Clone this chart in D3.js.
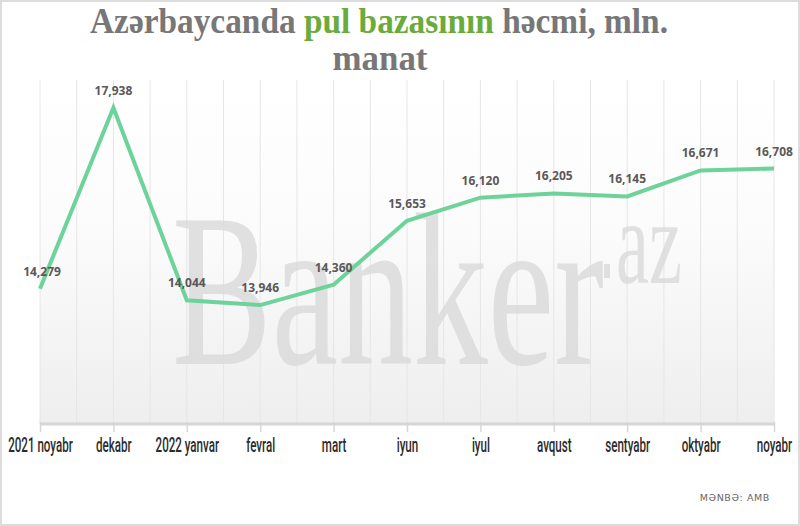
<!DOCTYPE html>
<html><head><meta charset="utf-8">
<script src="https://cdn.jsdelivr.net/npm/d3@7"></script>
<style>body{margin:0;background:#fff}svg{display:block}</style>
</head><body>
<script>
const categories = ["2021 noyabr","dekabr","2022 yanvar","fevral","mart","iyun","iyul","avqust","sentyabr","oktyabr","noyabr"];
const values = [14279,17938,14044,13946,14360,15653,16120,16205,16145,16671,16708];
const yDomain = [11500,18500];

(function(){
const W=800,H=526;
const svg=d3.select("body").append("svg").attr("width",W).attr("height",H);
const defs=svg.append("defs");
const grad=defs.append("linearGradient").attr("id","bg").attr("x1",0).attr("x2",0).attr("y1",0).attr("y2",1);
grad.append("stop").attr("offset","0%").attr("stop-color","#ffffff");
grad.append("stop").attr("offset","45%").attr("stop-color","#fbfbfb");
grad.append("stop").attr("offset","100%").attr("stop-color","#eeeeee");

svg.append("rect").attr("x",1).attr("y",1).attr("width",W-2).attr("height",H-2).attr("fill","#fff").attr("stroke","#dcdcdc").attr("stroke-width",2);

const x=d3.scalePoint().domain(categories).range([40,774]);
const y=d3.scaleLinear().domain(yDomain).range([426,80]);
const plotTop=80,plotBottom=424;

svg.append("rect").attr("x",40).attr("y",plotTop).attr("width",734).attr("height",plotBottom-plotTop).attr("fill","url(#bg)");

const step=x.step();
const gx=[];
for(let i=0;i<categories.length;i++){gx.push(x(categories[i])); if(i<categories.length-1) gx.push(x(categories[i])+step/2);}
svg.append("g").selectAll("line").data(gx).join("line")
  .attr("x1",d=>d).attr("x2",d=>d).attr("y1",plotTop).attr("y2",plotBottom)
  .attr("stroke","#e6e6e6").attr("stroke-width",1);

// watermark
const wm=svg.append("g").attr("fill","#dadada").attr("opacity",0.8);
wm.append("text").attr("x",172).attr("y",364).attr("font-family","Liberation Serif, serif")
  .attr("font-size",218).attr("textLength",432).attr("lengthAdjust","spacingAndGlyphs").text("Banker");
wm.append("text").attr("x",616).attr("y",283).attr("font-family","Liberation Serif, serif")
  .attr("font-size",120).attr("textLength",66).attr("lengthAdjust","spacingAndGlyphs").text("az");
wm.append("rect").attr("x",604).attr("y",264).attr("width",6).attr("height",14);

// axis
const axis=d3.axisBottom(x).tickSize(8).tickPadding(10);
const ag=svg.append("g").attr("transform",`translate(0,${plotBottom})`).call(axis);
ag.select(".domain").attr("stroke","#d6d6d6").attr("stroke-width",3).attr("d",`M40,0H774`);
ag.selectAll(".tick line").attr("stroke","#d6d6d6").attr("stroke-width",1.5).attr("y1",-2);
ag.selectAll(".tick text").attr("fill","#2b2b2b").attr("font-family","Roboto, sans-serif")
  .attr("font-size",20).attr("font-weight",500)
  .attr("transform","scale(0.58,1)").attr("dy","0.5em");

// line
const line=d3.line().x((d,i)=>x(categories[i])).y(d=>y(d));
svg.append("path").datum(values).attr("d",line).attr("fill","none")
  .attr("stroke","#6dd39b").attr("stroke-width",4).attr("stroke-linejoin","miter");

// labels
svg.append("g").selectAll("text").data(values).join("text")
  .attr("x",(d,i)=>x(categories[i])+(i===0?2:0)).attr("y",d=>y(d)-13)
  .attr("text-anchor","middle").attr("font-family","Open Sans, sans-serif").attr("font-weight",700)
  .attr("font-size",12).attr("fill","#595959").text(d=>d3.format(",")(d));

// title
const t1=svg.append("text").attr("x",379).attr("y",33).attr("text-anchor","middle")
  .attr("font-family","Liberation Serif, serif").attr("font-weight",700).attr("font-size",35)
  .attr("textLength",578).attr("lengthAdjust","spacingAndGlyphs").attr("fill","#777");
t1.append("tspan").text("Azərbaycanda ");
t1.append("tspan").attr("fill","#6aab3b").text("pul bazasının");
t1.append("tspan").text(" həcmi, mln.");
svg.append("text").attr("x",380).attr("y",70).attr("text-anchor","middle")
  .attr("font-family","Liberation Serif, serif").attr("font-weight",700).attr("font-size",35)
  .attr("textLength",95).attr("lengthAdjust","spacingAndGlyphs").attr("fill","#777").text("manat");

svg.append("text").attr("x",770).attr("y",501).attr("text-anchor","end")
  .attr("font-family","DejaVu Sans, sans-serif").attr("font-size",9.5).attr("letter-spacing",0.6)
  .attr("fill","#666").text("MƏNBƏ: AMB");
})();
</script>
</body></html>
